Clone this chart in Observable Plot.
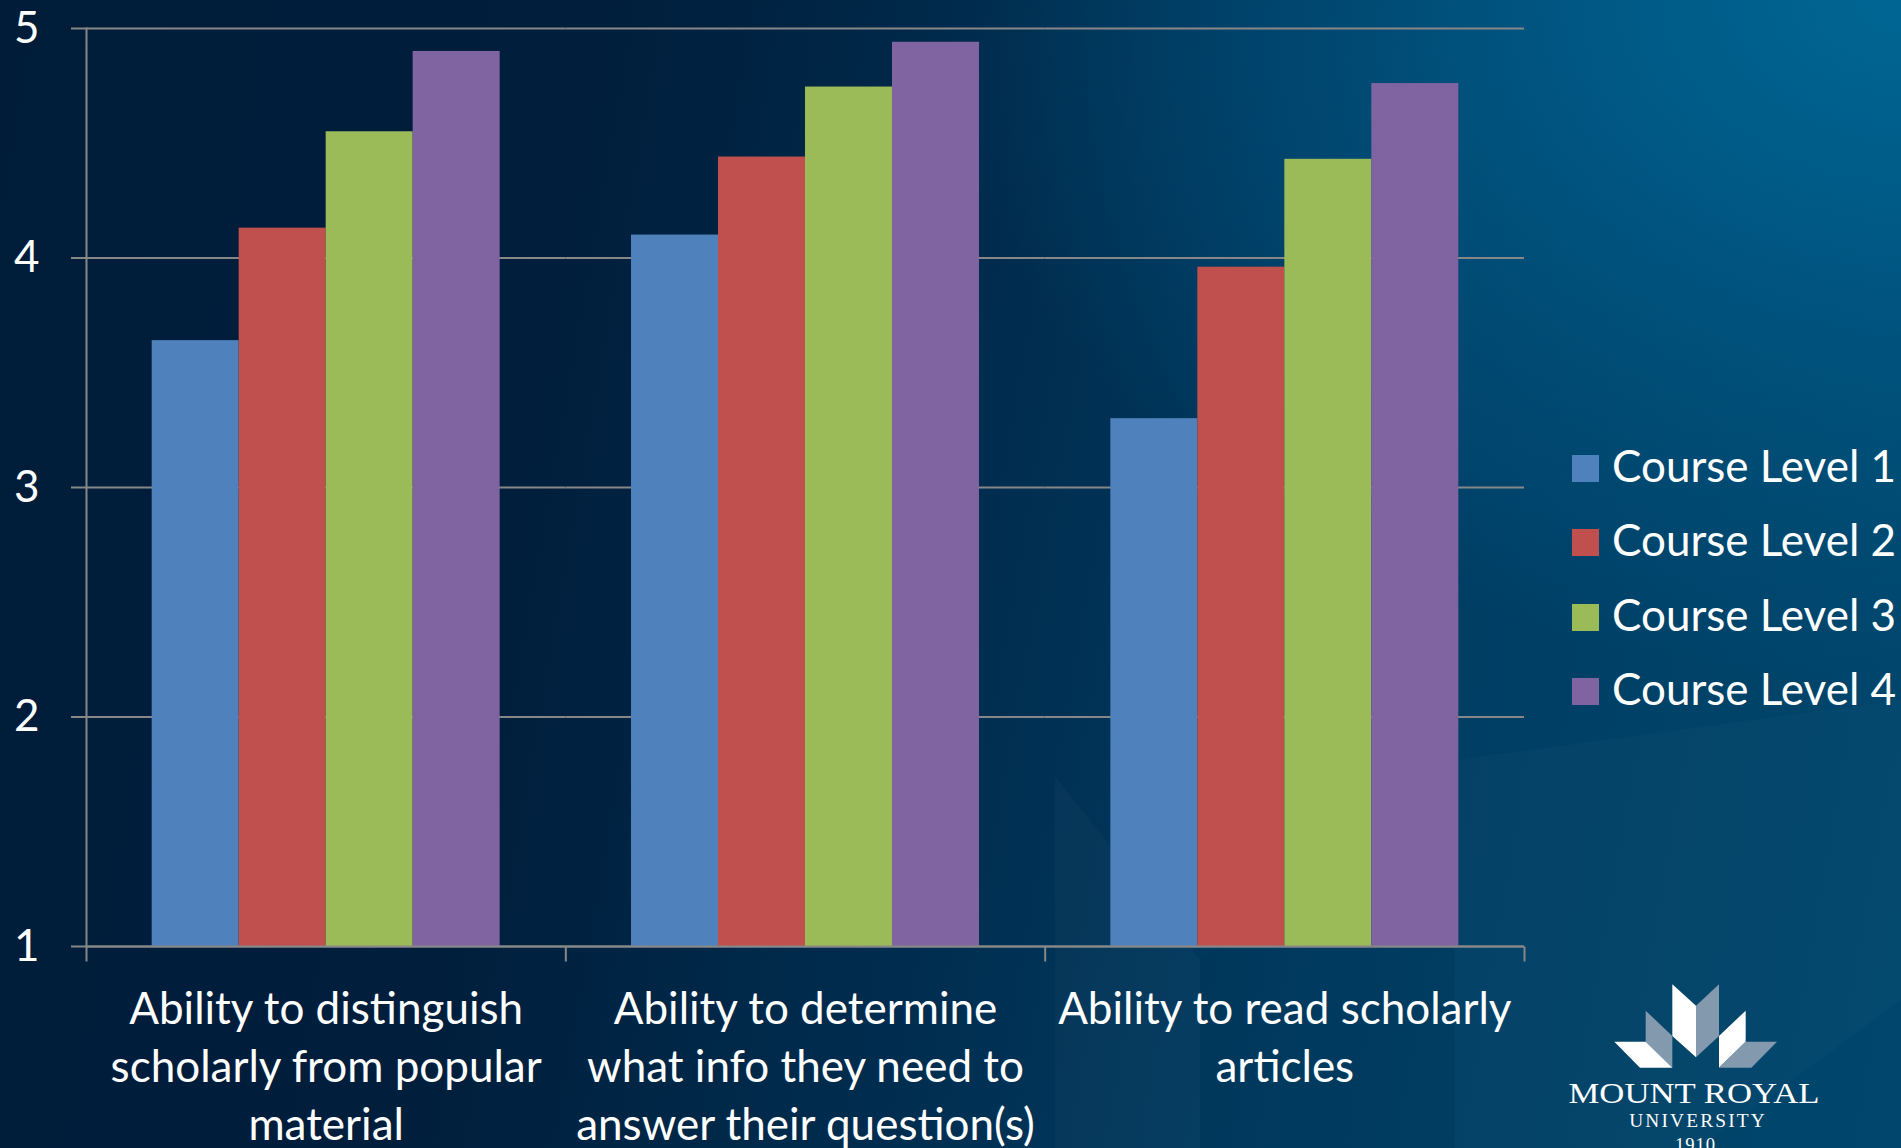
<!DOCTYPE html>
<html>
<head>
<meta charset="utf-8">
<script src="https://cdn.jsdelivr.net/npm/d3@7"></script>
<script src="https://cdn.jsdelivr.net/npm/@observablehq/plot@0.6"></script>
<style>
  html, body { margin: 0; padding: 0; }
  body {
    width: 1901px; height: 1148px; overflow: hidden; position: relative;
    background:
      radial-gradient(ellipse 60% 70% at 100% 0%, rgba(0,102,148,1) 0%, rgba(0,92,138,0.55) 45%, rgba(0,60,100,0) 85%),
      linear-gradient(100deg, #001c39 0%, #001f3d 30%, #002c4e 50%, #003c62 70%, #00476d 100%);
  }
  #bg { position: absolute; left: 0; top: 0; }
  #chart { position: absolute; left: 0; top: 0; }
  #legend { position: absolute; left: 1572px; top: 0; color: #fff; font-family: Lato, "Open Sans", sans-serif; font-size: 44px; }
  #legend .row { position: absolute; left: 0; white-space: nowrap; line-height: 1; }
  #legend .sw { display: inline-block; width: 27px; height: 27px; margin-right: 13px; }
  #logo { position: absolute; left: 1500px; top: 940px; }
</style>
</head>
<body>
<svg id="bg" width="1901" height="1148">
  <polygon points="1055,776 1200,960 1200,1148 1055,1148" fill="#ffffff" fill-opacity="0.025"/>
  <polygon points="1455,760 1901,700 1901,1000 1700,1148 1455,1148" fill="#ffffff" fill-opacity="0.02"/>
  <polygon points="1200,960 1455,760 1455,1148 1200,1148" fill="#000000" fill-opacity="0.03"/>
</svg>
<div id="chart"></div>
<div id="legend"></div>
<svg id="logo" width="401" height="208" viewBox="0 0 1203 624">
  <polygon points="517,133 588,197 588,352 517,288" fill="#ffffff"/>
  <polygon points="657,133 588,197 588,352 657,288" fill="#8399ad"/>
  <polygon points="437,212 517,288 517,383 437,305" fill="#8399ad"/>
  <polygon points="343,305 437,305 517,383 420,383" fill="#ffffff"/>
  <polygon points="737,212 657,288 657,383 737,305" fill="#ffffff"/>
  <polygon points="831,305 737,305 657,383 754,383" fill="#8399ad"/>
  <text x="582" y="490" text-anchor="middle" font-family="'Liberation Serif', 'DejaVu Serif', serif" font-size="88" fill="#fff" textLength="753" lengthAdjust="spacingAndGlyphs">MOUNT ROYAL</text>
  <text x="591" y="562" text-anchor="middle" font-family="'Liberation Serif', 'DejaVu Serif', serif" font-size="58" fill="#fff" textLength="407" lengthAdjust="spacing">UNIVERSITY</text>
  <text x="585" y="632" text-anchor="middle" font-family="'Liberation Serif', 'DejaVu Serif', serif" font-size="56" fill="#fff" textLength="120" lengthAdjust="spacing">1910</text>
</svg>
<script>
const FONT = "Lato, 'Open Sans', sans-serif";

const categories = [
  "Ability to distinguish scholarly from popular material",
  "Ability to determine what info they need to answer their question(s)",
  "Ability to read scholarly articles"
];
const categoryLabels = [
  "Ability to distinguish\nscholarly from popular\nmaterial",
  "Ability to determine\nwhat info they need to\nanswer their question(s)",
  "Ability to read scholarly\narticles"
];
const levels = ["Course Level 1", "Course Level 2", "Course Level 3", "Course Level 4"];
const level1 = [3.64, 4.10, 3.30];
const level2 = [4.13, 4.44, 3.96];
const level3 = [4.55, 4.745, 4.43];
const level4 = [4.90, 4.94, 4.76];
const colors = ["#4F81BD", "#C0504D", "#9BBB59", "#8064A2"];
const yTicks = [1, 2, 3, 4, 5];

const GRID = "#878787";
const series = [level1, level2, level3, level4];
const rows = [];
categories.forEach((c, i) => levels.forEach((l, j) => rows.push({category: c, level: l, value: series[j][i]})));

const tickSymbol = {draw(ctx) { ctx.moveTo(0, 0); ctx.lineTo(0, 15); }};

const chart = Plot.plot({
  width: 1901,
  height: 1148,
  marginLeft: 86,
  marginRight: 377,
  marginTop: 28,
  marginBottom: 202,
  style: {background: "transparent", color: "#fff", fontFamily: FONT, fontSize: "44px", overflow: "visible"},
  fx: {domain: categories, padding: 0, round: false, label: null, axis: null},
  x: {domain: levels, paddingInner: 0, paddingOuter: 0.755, round: false, axis: null},
  y: {domain: [1, 5], label: null, axis: null},
  color: {domain: levels, range: colors},
  marks: [
    Plot.gridY(yTicks, {stroke: GRID, strokeOpacity: 1, strokeWidth: 2}),
    Plot.barY(rows, {fx: "category", x: "level", y1: 1, y2: "value", fill: "level"}),
    Plot.ruleY([1], {stroke: GRID, strokeWidth: 2}),
    Plot.axisY(yTicks, {tickSize: 15, tickPadding: 32, stroke: GRID, strokeWidth: 2, fill: "#fff", fontSize: 44, label: null, tickFormat: d => String(d)}),
    Plot.frame({anchor: "left", facetAnchor: "left", stroke: GRID, strokeWidth: 2}),
    Plot.dot(categories, {fx: d => d, x: null, y: null, frameAnchor: "bottom-left", symbol: tickSymbol, stroke: GRID, strokeWidth: 2, fill: "none"}),
    Plot.dot(categories.slice(-1), {fx: d => d, x: null, y: null, frameAnchor: "bottom-right", symbol: tickSymbol, stroke: GRID, strokeWidth: 2, fill: "none"}),
    Plot.axisFx({anchor: "bottom", tickSize: 0, tickPadding: 36, lineHeight: 1.318, fontSize: 44, fill: "#fff", label: null,
      tickFormat: d => categoryLabels[categories.indexOf(d)]})
  ]
});
document.getElementById("chart").appendChild(chart);

const legend = document.getElementById("legend");
levels.forEach((l, i) => {
  const row = document.createElement("div");
  row.className = "row";
  row.style.top = (442.5 + i * 74.5) + "px";
  const sw = document.createElement("span");
  sw.className = "sw";
  sw.style.background = colors[i];
  row.appendChild(sw);
  row.appendChild(document.createTextNode(l));
  legend.appendChild(row);
});
</script>
</body>
</html>
